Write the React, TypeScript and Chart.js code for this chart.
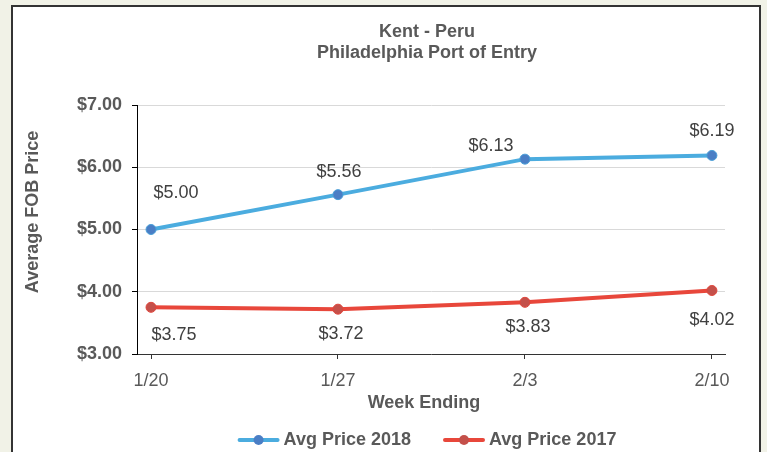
import React, { useEffect, useRef } from "react";
import { Chart, registerables } from "chart.js";

Chart.register(...registerables);

const weeks = ["1/20", "1/27", "2/3", "2/10"];
const price2018 = [5.0, 5.56, 6.13, 6.19];
const price2017 = [3.75, 3.72, 3.83, 4.02];
const seriesNames = ["Avg Price 2018", "Avg Price 2017"];
const titleLines = ["Kent - Peru", "Philadelphia Port of Entry"];
const yTitle = "Average FOB Price";
const xTitle = "Week Ending";
const yMin = 3;
const yMax = 7;

const FONT = "'Liberation Sans', Arial, Helvetica, sans-serif";
const TEXT = "#595959";

// label offsets (pixels) from each point, per dataset
const labelOffsets = [
  [[25, -36], [1, -23], [-34, -13], [0, -24]],
  [[23, 28], [3, 25], [3, 25], [0, 30]],
];

const decorPlugin = {
  id: "decor",
  beforeDraw(chart: any) {
    const { ctx, width, height } = chart;
    ctx.save();
    ctx.fillStyle = "#f1f2e7";
    ctx.fillRect(0, 0, width, height);
    ctx.fillStyle = "#ffffff";
    ctx.fillRect(12, 6, 748, height);
    ctx.strokeStyle = "#333333";
    ctx.lineWidth = 2;
    ctx.strokeRect(12, 6, 748, height + 10);
    ctx.restore();
  },
  afterDatasetsDraw(chart: any) {
    const { ctx } = chart;
    ctx.save();
    ctx.font = `18px ${FONT}`;
    ctx.fillStyle = "#404040";
    ctx.textAlign = "center";
    ctx.textBaseline = "middle";
    chart.data.datasets.forEach((ds: any, di: number) => {
      const meta = chart.getDatasetMeta(di);
      meta.data.forEach((pt: any, i: number) => {
        const v = ds.data[i].y;
        const off = labelOffsets[di][i];
        ctx.fillText("$" + v.toFixed(2), pt.x + off[0], pt.y + off[1]);
      });
    });
    ctx.restore();
  },
  afterDraw(chart: any) {
    const { ctx, chartArea } = chart;
    ctx.save();
    ctx.fillStyle = TEXT;
    ctx.textAlign = "center";
    ctx.textBaseline = "middle";
    ctx.font = `bold 18px ${FONT}`;
    const cx = 427;
    ctx.fillText(titleLines[0], cx, 32);
    ctx.fillText(titleLines[1], cx, 53);

    // y title
    ctx.save();
    ctx.translate(33, 212);
    ctx.rotate(-Math.PI / 2);
    ctx.fillText(yTitle, 0, 0);
    ctx.restore();

    // x title
    ctx.fillText(xTitle, (chartArea.left + chartArea.right) / 2 - 7, 403);

    // legend
    const items = chart.data.datasets.map((ds: any) => ({
      ds,
      w: 46 + ctx.measureText(ds.label).width,
    }));
    const gap = 32;
    const total = items.reduce((s: number, it: any) => s + it.w, 0) + gap * (items.length - 1);
    let x = cx - total / 2;
    const ly = 440;
    items.forEach((it: any) => {
      ctx.strokeStyle = it.ds.borderColor;
      ctx.lineWidth = 4;
      ctx.lineCap = "round";
      ctx.beginPath();
      ctx.moveTo(x + 2, ly);
      ctx.lineTo(x + 40, ly);
      ctx.stroke();
      ctx.fillStyle = it.ds.pointBackgroundColor;
      ctx.beginPath();
      ctx.arc(x + 21, ly, 5, 0, Math.PI * 2);
      ctx.fill();
      ctx.fillStyle = TEXT;
      ctx.textAlign = "left";
      ctx.fillText(it.ds.label, x + 46, ly);
      x += it.w + gap;
    });
    ctx.restore();
  },
};

export default function App() {
  const ref = useRef<HTMLCanvasElement>(null);
  useEffect(() => {
    if (!ref.current) return;
    const chart = new Chart(ref.current, {
      type: "line",
      data: {
        datasets: [
          {
            label: seriesNames[0],
            data: price2018.map((v, i) => ({ x: i, y: v })),
            borderColor: "#4BACDF",
            backgroundColor: "#4A7EC5",
            pointBackgroundColor: "#4A7EC5",
            pointBorderColor: "#4A9FD8",
            pointBorderWidth: 1,
            pointRadius: 5,
            borderWidth: 4,
            tension: 0,
          },
          {
            label: seriesNames[1],
            data: price2017.map((v, i) => ({ x: i, y: v })),
            borderColor: "#E8473B",
            backgroundColor: "#C4504A",
            pointBackgroundColor: "#C4504A",
            pointBorderColor: "#E0463C",
            pointBorderWidth: 1,
            pointRadius: 5,
            borderWidth: 4,
            tension: 0,
          },
        ],
      },
      options: {
        responsive: false,
        animation: false,
        layout: { padding: { top: 105, right: 42, bottom: 36, left: 0 } },
        plugins: {
          legend: { display: false },
          title: { display: false },
          tooltip: { enabled: false },
        },
        scales: {
          x: {
            type: "linear",
            min: -0.075,
            max: 3.07,
            afterBuildTicks: (scale: any) => {
              scale.ticks = weeks.map((_, i) => ({ value: i }));
            },
            afterFit: (scale: any) => {
              scale.height = 62;
            },
            ticks: {
              callback: (v: any) => weeks[v] ?? "",
              font: { family: FONT, size: 18 },
              color: TEXT,
              padding: 11,
              maxRotation: 0,
              autoSkip: false,
            },
            grid: {
              drawOnChartArea: false,
              tickLength: 5,
              tickColor: "#333333",
            },
            border: { color: "#333333", width: 1 },
          },
          y: {
            min: yMin,
            max: yMax,
            afterFit: (scale: any) => {
              scale.width = 137;
            },
            ticks: {
              stepSize: 1,
              callback: (v: any) => "$" + Number(v).toFixed(2),
              font: { family: FONT, size: 18, weight: "bold" },
              color: TEXT,
              padding: 10,
            },
            grid: {
              color: "#d9d9d9",
              tickColor: "#000000",
              tickLength: 5,
            },
            border: { color: "#000000", width: 1 },
          },
        },
      },
      plugins: [decorPlugin],
    });
    return () => chart.destroy();
  }, []);
  return (
    <div style={{ position: "fixed", left: 0, top: 0, width: 767, height: 452 }}>
      <canvas ref={ref} width={767} height={452} style={{ width: 767, height: 452, display: "block" }} />
    </div>
  );
}
